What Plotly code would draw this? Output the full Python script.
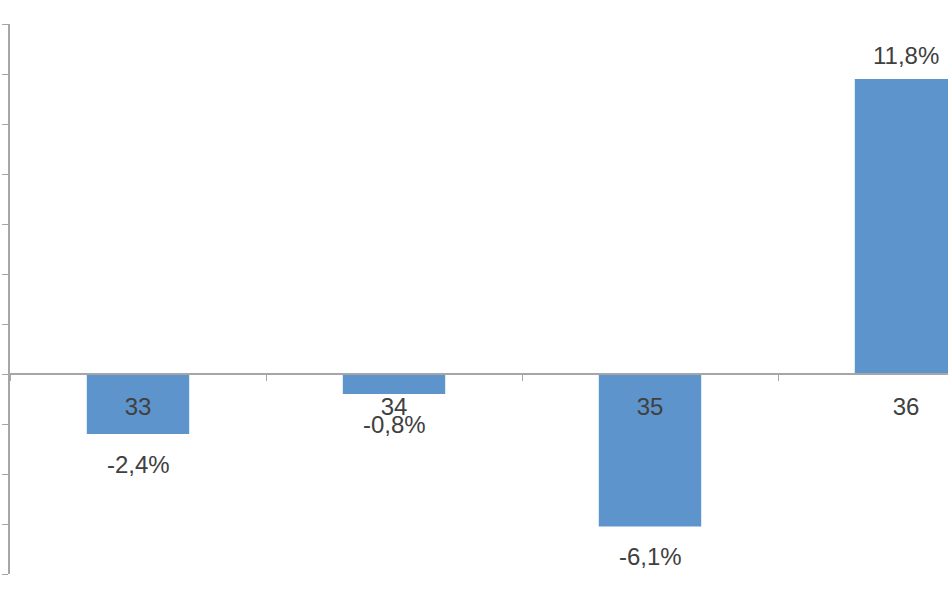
import plotly.graph_objects as go

categories = ["33", "34", "35", "36"]
values = [-2.4, -0.8, -6.1, 11.8]

bar_color = "#5D94CB"
text_color = "#404040"
axis_color = "#A6A6A6"

y_min, y_max = -8, 14
labels = [f"{v:.1f}".replace(".", ",") + "%" for v in values]

fig = go.Figure()
fig.add_trace(go.Bar(
    x=categories, y=values, width=0.4,
    marker=dict(color=bar_color, line=dict(width=0)),
    hoverinfo="skip",
))

for i, (v, t) in enumerate(zip(values, labels)):
    fig.add_annotation(
        xref="x", yref="y",
        x=i, y=v, text=t, showarrow=False,
        yanchor="middle", xanchor="center",
        yshift=24 if v >= 0 else -30,
        font=dict(family="Liberation Sans, Arial, sans-serif", size=24, color=text_color),
    )

fig.update_layout(
    width=948, height=593,
    margin=dict(l=10, r=0, t=24, b=19, pad=0),
    paper_bgcolor="white", plot_bgcolor="white",
    showlegend=False,
    font=dict(family="Liberation Sans, Arial, sans-serif", size=24, color=text_color),
    xaxis=dict(
        type="category",
        range=[-0.5, -0.5 + 938 / 256],
        anchor="free",
        position=(0 - y_min) / (y_max - y_min),
        showline=True, linecolor=axis_color, linewidth=1.5,
        ticks="outside", tickson="boundaries", ticklen=6, tickcolor=axis_color,
        ticklabelstandoff=11,
        showgrid=False, zeroline=False,
        tickfont=dict(size=24, color=text_color),
    ),
    yaxis=dict(
        range=[y_min, y_max], dtick=2, tick0=0,
        showline=True, linecolor=axis_color, linewidth=1.5,
        ticks="outside", ticklen=6, tickcolor=axis_color,
        showticklabels=False, showgrid=False, zeroline=False,
    ),
)

fig.write_html(
    "out.html",
    config={"displayModeBar": False},
    post_script="document.body.style.margin='0';document.body.style.overflow='hidden';",
)
